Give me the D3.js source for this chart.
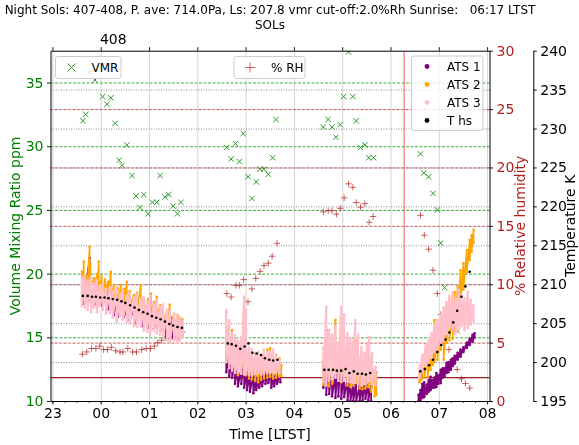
<!DOCTYPE html>
<html lang="en">
<head>
<meta charset="UTF-8">
<title>Night Sols 407-408</title>
<script src="https://d3js.org/d3.v7.min.js"></script>
<style>
  body { margin: 0; background: #fff; }
  svg { font-family: "DejaVu Sans", sans-serif; display: block; }
</style>
</head>
<body>
<svg width="579" height="445"></svg>
<script>
// ---- data ----
const hourTicks = [23, 24, 25, 26, 27, 28, 29, 30, 31, 32];   // 23:00 .. 08:00 LTST
const vmrTicks = [10, 15, 20, 25, 30, 35];
const rhTicks = [0, 5, 10, 15, 20, 25, 30];
const tempTicks = [195, 200, 205, 210, 215, 220, 225, 230, 235, 240];
const solTick = 24.25, solLabel = '408';
const sunrise = 30 + 17 / 60;
const rhCutoff = 2.0;
const titleText = 'Night Sols: 407-408, P. ave: 714.0Pa, Ls: 207.8 vmr cut-off:2.0%Rh Sunrise:   06:17 LTST';

// [hour, ppm]
const vmr = [
  [23.63,32.0],[23.69,32.5],[23.77,35.8],[23.88,35.2],[24.04,33.9],[24.13,33.3],[24.21,33.8],[24.30,31.8],
  [24.38,28.9],[24.44,28.5],[24.54,30.1],[24.65,27.7],[24.73,26.1],[24.81,25.2],[24.89,26.2],[24.98,24.7],
  [25.07,25.6],[25.16,25.6],[25.23,27.7],[25.33,26.0],[25.41,26.2],[25.50,25.3],[25.59,24.7],[25.66,25.6],
  [26.61,29.9],[26.70,29.0],[26.79,30.2],[26.87,28.8],[26.95,31.0],[27.05,27.6],[27.13,25.9],[27.22,27.2],
  [27.30,28.2],[27.38,28.2],[27.47,27.8],[27.56,29.1],[27.63,32.1],
  [28.61,31.5],[28.71,32.1],[28.79,31.5],[28.87,30.7],[28.96,31.7],[29.03,33.9],[29.13,37.4],[29.22,33.9],
  [29.29,32.0],[29.38,29.9],[29.47,30.1],[29.55,29.1],[29.65,29.1],
  [30.62,29.4],[30.69,27.9],[30.79,27.6],[30.88,26.3],[30.97,25.0],[31.04,22.4],[31.12,18.9],[31.22,16.4],
  [31.28,15.6],[31.38,15.5]
];

// [hour, %RH]
const rh = [
  [23.62,4.0],[23.71,4.2],[23.81,4.5],[23.90,4.5],[23.98,4.7],[24.06,4.4],[24.14,4.4],[24.22,4.6],[24.31,4.3],
  [24.40,4.2],[24.46,4.2],[24.56,4.5],[24.66,4.2],[24.74,4.2],[24.85,4.4],[24.94,4.5],[25.03,4.5],[25.11,4.7],
  [25.18,5.0],[25.26,5.2],[25.35,5.4],[25.43,5.3],[25.54,5.5],[25.62,5.7],[25.69,5.9],
  [26.61,9.2],[26.70,8.9],[26.80,9.9],[26.87,9.9],[26.96,10.4],[27.05,8.5],[27.13,9.6],[27.21,10.5],[27.30,11.1],
  [27.38,11.6],[27.47,11.8],[27.55,12.4],[27.65,13.5],
  [28.61,16.2],[28.71,16.3],[28.79,16.3],[28.88,16.0],[28.96,16.5],[29.04,17.4],[29.13,18.6],[29.22,18.3],
  [29.29,17.0],[29.38,16.6],[29.47,16.9],[29.56,15.3],[29.64,15.8],
  [30.62,15.9],[30.70,14.2],[30.79,13.0],[30.88,11.2],[30.97,9.2],[31.04,7.4],[31.12,5.8],[31.21,4.4],
  [31.29,3.4],[31.38,2.7],[31.47,1.9],[31.55,1.5],[31.64,1.1]
];

// [hour, K]
const tHs = [
  [23.63,208.5],[23.73,208.5],[23.82,208.4],[23.90,208.4],[23.99,208.3],[24.08,208.3],[24.16,208.2],[24.25,208.1],
  [24.34,208.0],[24.43,207.8],[24.51,207.6],[24.61,207.3],[24.70,207.0],[24.79,206.7],[24.88,206.4],[24.97,206.2],
  [25.06,205.9],[25.15,205.7],[25.24,205.5],[25.33,205.2],[25.42,204.9],[25.50,204.7],[25.59,204.5],[25.68,204.4],
  [26.63,202.4],[26.71,202.3],[26.80,202.1],[26.89,201.7],[26.98,202.0],[27.06,202.4],[27.14,201.2],[27.23,201.1],
  [27.32,200.9],[27.40,200.5],[27.49,200.3],[27.57,200.2],[27.66,200.3],
  [28.63,199.0],[28.72,199.0],[28.81,199.0],[28.89,198.9],[28.98,198.9],[29.07,199.1],[29.15,198.6],[29.24,198.8],
  [29.32,198.5],[29.41,198.5],[29.49,198.4],[29.58,198.6],
  [30.62,198.8],[30.71,199.1],[30.80,199.6],[30.88,200.3],[30.97,201.3],[31.05,202.2],[31.14,202.9],[31.22,203.8],
  [31.30,205.1],[31.38,206.6],[31.47,208.4],[31.55,209.7],[31.64,211.6]
];

// ATS sensors: [hour, upper K, lower K] of the scatter band
const ats1 = [
  [23.65,209.9,207.5],[23.77,213.4,208.0],[23.90,209.5,207.4],[24.02,209.3,207.3],[24.15,209.0,206.8],[24.27,208.5,206.0],
  [24.35,208.2,205.8],[24.48,208.0,205.8],[24.60,207.7,205.4],[24.73,207.5,205.0],[24.85,207.3,204.6],[24.98,207.0,204.4],
  [25.10,206.7,204.3],[25.23,206.2,204.0],[25.35,205.9,203.3],[25.48,205.7,203.2],[25.60,205.2,203.0],[25.69,204.9,203.4],
  [26.60,201.3,198.7],[26.66,200.8,198.2],[26.72,200.3,198.0],[26.78,199.8,197.2],[26.84,199.5,196.9],[26.91,199.2,197.2],
  [26.97,200.3,196.7],[27.03,198.7,196.4],[27.09,198.5,196.2],[27.16,198.2,196.0],[27.22,198.0,196.4],[27.28,198.2,196.7],
  [27.34,198.5,196.9],[27.41,198.7,197.2],[27.47,198.7,197.3],[27.53,198.5,196.7],[27.59,198.2,196.9],[27.65,198.7,197.2],
  [27.72,198.5,197.4],
  [28.61,199.6,196.7],[28.67,204.1,195.8],[28.73,202.2,195.9],[28.79,199.0,195.6],[28.86,198.3,195.4],[28.92,200.3,195.6],
  [28.98,201.6,195.3],[29.04,199.0,195.5],[29.11,197.7,195.1],[29.17,198.0,195.0],[29.23,197.1,195.0],[29.29,197.4,195.0],
  [29.36,196.9,195.0],[29.42,197.2,195.1],[29.48,197.7,195.3],[29.54,197.3,195.1],[29.60,196.9,195.0],
  [30.58,195.8,195.0],[30.62,196.4,195.1],[30.66,197.2,195.4],[30.70,197.4,195.5],[30.75,197.1,195.9],[30.79,197.7,196.2],
  [30.83,198.1,196.4],[30.87,197.7,196.7],[30.91,198.0,196.7],[30.95,198.6,196.8],[30.99,198.3,197.2],[31.04,199.0,197.3],
  [31.08,199.2,198.0],[31.12,199.2,198.2],[31.16,199.9,198.6],[31.20,200.0,198.7],[31.25,200.3,199.0],[31.29,200.5,199.5],
  [31.33,200.8,199.8],[31.39,201.2,200.3],[31.45,201.6,200.7],[31.51,201.9,201.3],[31.58,202.5,201.8],[31.64,203.0,202.2],
  [31.70,203.5,202.6],[31.74,203.7,203.1]
];
const ats2 = [
  [23.61,211.6,208.0],[23.65,212.9,209.3],[23.71,211.1,208.2],[23.77,214.8,209.0],[23.79,212.6,209.8],[23.86,210.8,208.6],
  [23.92,211.3,209.0],[23.96,212.9,209.3],[24.02,211.0,208.6],[24.09,210.6,209.0],[24.15,210.3,208.5],[24.21,211.6,208.0],
  [24.27,209.9,208.2],[24.35,209.5,207.7],[24.42,209.9,208.0],[24.48,209.4,207.5],[24.54,210.3,207.7],[24.60,209.1,207.2],
  [24.69,208.6,206.7],[24.75,208.9,206.4],[24.83,209.9,207.0],[24.89,208.2,206.2],[24.98,208.1,205.9],[25.04,208.8,206.4],
  [25.10,207.7,205.7],[25.16,208.4,205.9],[25.23,207.3,205.4],[25.29,207.0,205.2],[25.37,206.5,204.8],[25.43,207.4,204.9],
  [25.52,206.2,204.6],[25.60,205.9,204.4],[25.69,205.5,203.9],
  [26.60,206.4,200.0],[26.66,205.2,200.3],[26.72,204.1,199.5],[26.78,202.6,198.7],[26.84,202.2,198.3],[26.91,202.8,198.7],
  [26.97,208.0,199.2],[27.01,204.1,198.3],[27.07,200.9,197.9],[27.13,200.5,197.8],[27.20,200.0,197.6],[27.26,200.3,197.4],
  [27.32,200.8,197.7],[27.38,200.9,197.9],[27.45,201.6,198.0],[27.51,201.8,198.1],[27.57,201.3,197.9],[27.63,200.9,198.0],
  [27.70,200.5,198.1],[27.74,199.6,198.2],
  [28.61,200.3,197.1],[28.67,204.1,197.7],[28.73,202.2,196.9],[28.79,203.1,197.2],[28.86,205.4,199.0],[28.92,202.2,197.6],
  [28.98,203.5,197.4],[29.04,203.9,197.7],[29.11,201.6,197.0],[29.17,200.9,196.8],[29.23,202.2,197.0],[29.29,202.8,197.3],
  [29.36,200.3,196.6],[29.42,199.6,196.5],[29.48,200.3,196.6],[29.54,201.6,196.8],[29.60,199.6,196.2],[29.67,199.0,195.6],
  [29.71,198.7,195.8],
  [30.60,198.7,197.4],[30.64,199.2,197.7],[30.70,199.9,198.0],[30.77,200.7,198.1],[30.83,201.6,199.0],[30.87,203.5,199.6],
  [30.91,205.4,200.0],[30.97,203.2,200.3],[31.04,204.5,201.6],[31.10,205.4,200.3],[31.16,205.0,202.5],[31.22,208.0,202.8],
  [31.29,206.5,203.0],[31.33,209.0,204.0],[31.39,209.7,205.8],[31.45,211.8,207.6],[31.51,212.7,209.3],[31.58,214.4,211.5],
  [31.64,215.7,213.1],[31.68,216.3,214.2],[31.72,217.0,215.3]
];
const ats3 = [
  [23.61,210.9,207.2],[23.67,211.2,207.0],[23.73,210.5,206.7],[23.80,210.9,206.4],[23.86,210.1,207.0],[23.92,210.5,206.4],
  [23.98,209.8,207.2],[24.04,210.0,206.7],[24.11,209.4,206.2],[24.19,209.6,206.3],[24.25,209.1,205.7],[24.33,209.6,205.2],
  [24.40,208.8,205.9],[24.46,209.2,205.4],[24.54,208.5,205.2],[24.60,208.9,205.0],[24.69,208.3,204.6],[24.75,208.7,204.5],
  [24.83,208.0,204.6],[24.89,208.3,204.1],[24.96,207.8,203.9],[25.02,208.5,203.5],[25.10,207.5,204.0],[25.16,207.9,203.7],
  [25.23,207.1,203.5],[25.29,207.4,203.1],[25.37,206.7,202.8],[25.43,206.6,202.6],[25.52,206.2,202.8],[25.58,206.1,202.5],
  [25.64,205.7,202.8],[25.70,205.3,203.2],
  [26.60,206.7,200.0],[26.66,205.4,199.2],[26.72,203.7,198.9],[26.78,203.4,198.6],[26.84,202.8,198.6],[26.91,203.2,198.5],
  [26.97,208.4,198.4],[27.01,206.7,198.5],[27.07,201.9,198.4],[27.13,201.6,198.3],[27.20,201.2,198.5],[27.26,201.3,198.6],
  [27.32,200.9,198.4],[27.38,201.6,198.5],[27.45,201.2,198.7],[27.51,201.3,198.6],[27.57,201.6,198.7],[27.63,200.8,198.7],
  [27.70,200.3,198.6],
  [28.61,201.9,197.4],[28.67,207.1,197.0],[28.73,204.1,197.6],[28.79,203.5,197.8],[28.86,204.5,198.0],[28.92,202.5,197.6],
  [28.98,207.1,197.5],[29.04,206.1,197.6],[29.11,203.7,197.5],[29.17,203.1,197.4],[29.23,202.8,197.3],[29.27,205.4,197.4],
  [29.33,203.5,197.2],[29.40,201.9,197.0],[29.46,201.2,197.2],[29.52,202.2,197.4],[29.56,203.2,197.6],[29.62,201.2,197.2],
  [29.69,199.4,197.0],
  [30.60,199.6,198.0],[30.66,200.9,198.7],[30.73,202.2,199.5],[30.79,202.8,200.0],[30.85,203.7,200.5],[30.91,204.8,201.3],
  [30.97,205.4,201.6],[31.04,206.1,202.2],[31.10,207.0,202.8],[31.16,207.7,203.6],[31.22,208.5,204.4],[31.29,209.0,204.1],
  [31.35,208.2,203.6],[31.41,209.3,204.1],[31.47,208.6,204.6],[31.53,208.2,204.1],[31.60,209.0,204.4],[31.66,208.0,204.8],
  [31.72,207.3,205.2]
];

// ---- layout ----
const svg = d3.select('svg');
const plot = { left: 50.5, right: 489.5, top: 50.7, bottom: 401 };
const tempSpine = 533.3;
const font = 'DejaVu Sans';

const x = d3.scaleLinear().domain([22.96, 32.05]).range([plot.left, plot.right]);
const yV = d3.scaleLinear().domain([10, 37.5]).range([plot.bottom, plot.top]);
const yR = d3.scaleLinear().domain([0, 30]).range([plot.bottom, plot.top]);
const yT = d3.scaleLinear().domain([195, 240]).range([plot.bottom, plot.top]);
const pw = plot.right - plot.left, ph = plot.bottom - plot.top;

svg.append('defs').append('clipPath').attr('id', 'clip').append('rect')
  .attr('x', plot.left).attr('y', plot.top).attr('width', pw).attr('height', ph);

function grid(axis, tx, ty, color, dash, width) {
  const g = svg.append('g').attr('transform', `translate(${tx},${ty})`).call(axis);
  g.select('.domain').remove();
  g.selectAll('line').attr('stroke', color).attr('stroke-width', width).attr('stroke-dasharray', dash);
  return g;
}
const xMark = s => `M${-s},${-s}L${s},${s}M${-s},${s}L${s},${-s}`;
const plusMark = s => `M${-s},0L${s},0M0,${-s}L0,${s}`;

function legendBox(x0, y0, w, h) {
  const g = svg.append('g');
  g.append('rect').attr('x', x0).attr('y', y0).attr('width', w).attr('height', h)
    .attr('rx', 2.5).attr('fill', '#fff').attr('fill-opacity', 0.8)
    .attr('stroke', '#cccccc').attr('stroke-width', 1);
  return g;
}
function legendText(g, tx, ty, label) {
  g.append('text').attr('x', tx).attr('y', ty).attr('dy', '0.35em')
    .attr('font-family', font).attr('font-size', 12).attr('fill', '#000').text(label);
}

// ---- layer 1: VMR ----
grid(d3.axisBottom(x).tickValues(hourTicks).tickSize(-ph).tickFormat(''), 0, plot.bottom, '#d4d4d4', null, 1);
grid(d3.axisLeft(yV).tickValues(vmrTicks.slice(1)).tickSize(-pw).tickFormat(''), plot.left, 0, '#2ca02c', '3,1.5', 0.9);

const L1 = svg.append('g').attr('clip-path', 'url(#clip)');
L1.selectAll('path').data(vmr).enter().append('path')
  .attr('transform', d => `translate(${x(d[0])},${yV(d[1])})`)
  .attr('d', xMark(2.7)).attr('stroke', '#2a9a2a').attr('stroke-width', 1).attr('fill', 'none');

const lg1 = legendBox(55.5, 56.5, 65.5, 22);
lg1.append('path').attr('transform', 'translate(71.5,67.5)').attr('d', xMark(4))
  .attr('stroke', '#2a9a2a').attr('stroke-width', 1).attr('fill', 'none');
legendText(lg1, 91.5, 67.5, 'VMR');

// ---- layer 2: RH ----
grid(d3.axisRight(yR).tickValues(rhTicks.slice(1, -1)).tickSize(-pw).tickFormat(''), plot.right, 0, '#b22222', '3,1.5', 0.9)
  .attr('opacity', 0.85);

const L2 = svg.append('g').attr('clip-path', 'url(#clip)');
L2.selectAll('path.rh').data(rh).enter().append('path').attr('class', 'rh')
  .attr('transform', d => `translate(${x(d[0])},${yR(d[1])})`)
  .attr('d', plusMark(3.2)).attr('stroke', '#b22222').attr('stroke-opacity', 0.7)
  .attr('stroke-width', 1).attr('fill', 'none');
L2.append('line').attr('x1', plot.left).attr('x2', plot.right)
  .attr('y1', yR(rhCutoff)).attr('y2', yR(rhCutoff)).attr('stroke', '#9b2020').attr('stroke-width', 1.2);
L2.append('line').attr('x1', x(sunrise)).attr('x2', x(sunrise))
  .attr('y1', plot.top).attr('y2', plot.bottom).attr('stroke', '#ff3030').attr('stroke-opacity', 0.55).attr('stroke-width', 1.5);

const lg2 = legendBox(234, 56.5, 71, 22);
lg2.append('path').attr('transform', 'translate(250,67.5)').attr('d', plusMark(5))
  .attr('stroke', '#b22222').attr('stroke-opacity', 0.7).attr('stroke-width', 1).attr('fill', 'none');
legendText(lg2, 271, 67.5, '% RH');

// ---- layer 3: temperatures ----
grid(d3.axisRight(yT).tickValues(tempTicks.slice(1, -1)).tickSize(-pw).tickFormat(''), plot.right, 0, '#808080', '1,1.5', 0.9);

const L3 = svg.append('g').attr('clip-path', 'url(#clip)');
function runs(arr) {
  const out = [];
  arr.forEach((d, i) => {
    if (i === 0 || d[0] - arr[i - 1][0] > 0.3) out.push([]);
    out[out.length - 1].push(d);
  });
  return out;
}
const band = d3.line().x(d => x(d[0])).y(d => yT(d[1]));
function drawAts(data, color, width) {
  runs(data).forEach(run => {
    const pts = run.flatMap(d => [[d[0], d[1]], [d[0], d[2]]]);
    L3.append('path').attr('d', band(pts)).attr('fill', 'none')
      .attr('stroke', color).attr('stroke-width', width).attr('stroke-linejoin', 'round');
    L3.append('g').selectAll('circle').data(pts).enter().append('circle')
      .attr('cx', d => x(d[0])).attr('cy', d => yT(d[1])).attr('r', 1.3).attr('fill', color);
  });
}
drawAts(ats1, '#800080', 1.8);
drawAts(ats2, '#ffa500', 1.6);
drawAts(ats3, '#ffc0cb', 2.2);
L3.selectAll('circle.ths').data(tHs).enter().append('circle').attr('class', 'ths')
  .attr('cx', d => x(d[0])).attr('cy', d => yT(d[1])).attr('r', 1.3).attr('fill', '#000');

const atsLegend = [['ATS 1', '#800080'], ['ATS 2', '#ffa500'], ['ATS 3', '#ffc0cb'], ['T hs', '#000']];
const lg3 = legendBox(411.5, 56, 71.5, 74.5);
atsLegend.forEach((d, i) => {
  lg3.append('circle').attr('cx', 427).attr('cy', 66.5 + i * 18).attr('r', 2.4).attr('fill', d[1]);
  legendText(lg3, 447, 66.5 + i * 18, d[0]);
});

// ---- axes ----
function styleAxis(g, color) {
  g.attr('font-family', font).attr('font-size', 14);
  g.selectAll('text').attr('fill', color);
  g.selectAll('line').attr('stroke', '#000').attr('stroke-width', 0.9);
  g.select('.domain').attr('stroke', '#000').attr('stroke-width', 1);
}
const hh = d => String(d % 24).padStart(2, '0');
styleAxis(svg.append('g').attr('transform', `translate(0,${plot.bottom})`)
  .call(d3.axisBottom(x).tickValues(hourTicks).tickFormat(hh).tickSize(3.5).tickPadding(3.5).tickSizeOuter(0)), '#000');
const quarters = d3.range(hourTicks[0] * 4, hourTicks[hourTicks.length - 1] * 4 + 1).map(q => q / 4);
const minorAx = svg.append('g').attr('transform', `translate(0,${plot.bottom})`)
  .call(d3.axisBottom(x).tickValues(quarters).tickFormat('').tickSize(2).tickSizeOuter(0));
minorAx.select('.domain').remove();
minorAx.selectAll('line').attr('stroke', '#000').attr('stroke-width', 0.7);

const topAx = svg.append('g').attr('transform', `translate(0,${plot.top})`)
  .call(d3.axisTop(x).tickValues(hourTicks).tickFormat('').tickSize(3.5).tickSizeOuter(0));
styleAxis(topAx, '#000');
const solAx = svg.append('g').attr('transform', `translate(0,${plot.top})`)
  .call(d3.axisTop(x).tickValues([solTick]).tickFormat(() => solLabel).tickSize(0).tickPadding(7));
solAx.select('.domain').remove();
styleAxis(solAx, '#000');

styleAxis(svg.append('g').attr('transform', `translate(${plot.left},0)`)
  .call(d3.axisLeft(yV).tickValues(vmrTicks).tickSize(3.5).tickPadding(3.5).tickSizeOuter(0)), 'green');
styleAxis(svg.append('g').attr('transform', `translate(${plot.right},0)`)
  .call(d3.axisRight(yR).tickValues(rhTicks).tickSize(3.5).tickPadding(3.5).tickSizeOuter(0)), '#b22222');
styleAxis(svg.append('g').attr('transform', `translate(${tempSpine},0)`)
  .call(d3.axisRight(yT).tickValues(tempTicks).tickSize(3.5).tickPadding(3.5).tickSizeOuter(0)), '#000');

// ---- titles and labels ----
const cx = (plot.left + plot.right) / 2, cy = (plot.top + plot.bottom) / 2;
svg.append('text').attr('x', cx).attr('y', 13.5).attr('text-anchor', 'middle')
  .attr('font-family', font).attr('font-size', 12).style('white-space', 'pre').text(titleText);
svg.append('text').attr('x', cx).attr('y', 29).attr('text-anchor', 'middle')
  .attr('font-family', font).attr('font-size', 12).text('SOLs');
svg.append('text').attr('x', cx).attr('y', 438.5).attr('text-anchor', 'middle')
  .attr('font-family', font).attr('font-size', 14).text('Time [LTST]');
svg.append('text').attr('transform', `translate(20,${cy}) rotate(-90)`).attr('text-anchor', 'middle')
  .attr('font-family', font).attr('font-size', 14).attr('fill', 'green').text('Volume Mixing Ratio ppm');
svg.append('text').attr('transform', `translate(525,${cy}) rotate(-90)`).attr('text-anchor', 'middle')
  .attr('font-family', font).attr('font-size', 14).attr('fill', '#b22222').text('% Relative humidity');
svg.append('text').attr('transform', `translate(575,${cy}) rotate(-90)`).attr('text-anchor', 'middle')
  .attr('font-family', font).attr('font-size', 14).attr('fill', '#000').text('Temperature K');
</script>
</body>
</html>
